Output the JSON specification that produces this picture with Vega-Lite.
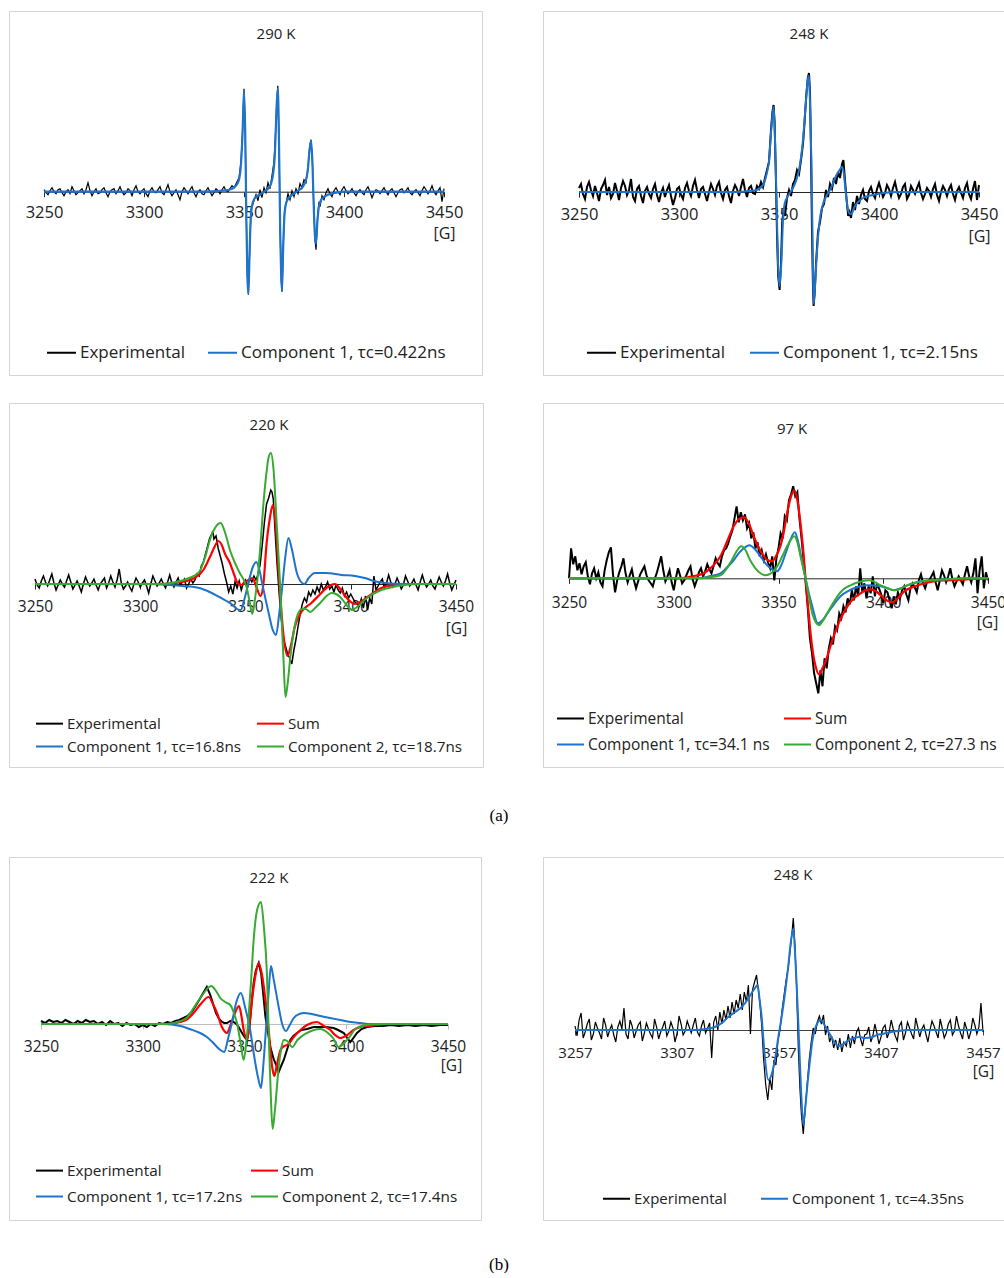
{
"$schema":"https://vega.github.io/schema/vega-lite/v6.json",
"background":"white",
"padding":{"left":8,"top":10,"right":0,"bottom":0},
"config":{
 "view":{"stroke":"#D4D4D4","strokeWidth":1},
 "font":"Open Sans",
 "axis":{"grid":false,"format":"d","labelFont":"Open Sans","titleFont":"Open Sans","labelColor":"#222","titleColor":"#222","titleFontWeight":"normal","domainColor":"#262626","tickColor":"#262626","tickSize":5,"labelBaseline":"middle","labelFlush":false,"labelOverlap":false,"titleBaseline":"middle","titleAlign":"center","zindex":1},
 "legend":{"orient":"none","direction":"horizontal","title":null,"symbolType":"stroke","symbolStrokeWidth":2,"labelFont":"Open Sans","labelColor":"#222","labelOffset":3,"labelLimit":400},
 "title":{"font":"Open Sans","fontWeight":"normal","color":"#222","fontSize":15,"frame":"group","anchor":"middle","baseline":"middle"}
},
"datasets":{
"p1e":[{"x":3250,"y":2},{"x":3251,"y":-1},{"x":3252,"y":-3},{"x":3253,"y":1},{"x":3254,"y":4},{"x":3255,"y":0},{"x":3256,"y":-2},{"x":3257,"y":2},{"x":3258,"y":3},{"x":3259,"y":-1},{"x":3260,"y":-4},{"x":3261,"y":0},{"x":3262,"y":2},{"x":3263,"y":-2},{"x":3264,"y":5},{"x":3265,"y":1},{"x":3266,"y":-3},{"x":3267,"y":-1},{"x":3268,"y":1},{"x":3269,"y":3},{"x":3270,"y":-2},{"x":3271,"y":2},{"x":3272,"y":9},{"x":3273,"y":1},{"x":3274,"y":-4},{"x":3275,"y":0},{"x":3276,"y":3},{"x":3277,"y":-2},{"x":3278,"y":-1},{"x":3279,"y":2},{"x":3280,"y":4},{"x":3281,"y":-1},{"x":3282,"y":-5},{"x":3283,"y":0},{"x":3284,"y":2},{"x":3285,"y":3},{"x":3286,"y":-2},{"x":3287,"y":1},{"x":3288,"y":5},{"x":3289,"y":0},{"x":3290,"y":-3},{"x":3291,"y":-1},{"x":3292,"y":3},{"x":3293,"y":1},{"x":3294,"y":-4},{"x":3295,"y":2},{"x":3296,"y":6},{"x":3297,"y":0},{"x":3298,"y":-2},{"x":3299,"y":1},{"x":3300,"y":3},{"x":3301,"y":-2},{"x":3302,"y":-5},{"x":3303,"y":1},{"x":3304,"y":4},{"x":3305,"y":0},{"x":3306,"y":-1},{"x":3307,"y":2},{"x":3308,"y":5},{"x":3309,"y":-1},{"x":3310,"y":-3},{"x":3311,"y":2},{"x":3312,"y":7},{"x":3313,"y":0},{"x":3314,"y":-4},{"x":3315,"y":-1},{"x":3316,"y":2},{"x":3317,"y":-3},{"x":3318,"y":-8},{"x":3319,"y":0},{"x":3320,"y":4},{"x":3321,"y":1},{"x":3322,"y":-2},{"x":3323,"y":2},{"x":3324,"y":5},{"x":3325,"y":-1},{"x":3326,"y":-5},{"x":3327,"y":0},{"x":3328,"y":2},{"x":3329,"y":-2},{"x":3330,"y":-3},{"x":3331,"y":1},{"x":3332,"y":4},{"x":3333,"y":0},{"x":3334,"y":-4},{"x":3335,"y":-1},{"x":3336,"y":3},{"x":3337,"y":1},{"x":3338,"y":-2},{"x":3339,"y":2},{"x":3340,"y":5},{"x":3341,"y":1},{"x":3342,"y":0},{"x":3343,"y":3},{"x":3344,"y":6},{"x":3345,"y":4},{"x":3346,"y":8},{"x":3347.5,"y":14},{"x":3348.5,"y":30},{"x":3349.3,"y":62},{"x":3350,"y":103},{"x":3350.6,"y":62},{"x":3351.2,"y":-28},{"x":3351.7,"y":-84},{"x":3352.2,"y":-103},{"x":3352.8,"y":-62},{"x":3353.5,"y":-18},{"x":3354.5,"y":-12},{"x":3356,"y":-3},{"x":3357,"y":-9},{"x":3358,"y":2},{"x":3359,"y":-6},{"x":3360,"y":4},{"x":3361,"y":-1},{"x":3362,"y":9},{"x":3363,"y":3},{"x":3364,"y":16},{"x":3365,"y":30},{"x":3365.8,"y":60},{"x":3366.4,"y":90},{"x":3366.9,"y":106},{"x":3367.5,"y":52},{"x":3368.1,"y":-40},{"x":3368.6,"y":-86},{"x":3369,"y":-100},{"x":3369.6,"y":-56},{"x":3370.3,"y":-18},{"x":3371,"y":-12},{"x":3372,"y":-2},{"x":3373,"y":-8},{"x":3374,"y":1},{"x":3375,"y":-5},{"x":3376,"y":3},{"x":3377,"y":-2},{"x":3378,"y":8},{"x":3379,"y":4},{"x":3380,"y":12},{"x":3381,"y":9},{"x":3382,"y":24},{"x":3382.8,"y":44},{"x":3383.5,"y":52},{"x":3384.2,"y":30},{"x":3384.8,"y":-10},{"x":3385.5,"y":-48},{"x":3386,"y":-58},{"x":3386.7,"y":-28},{"x":3387.5,"y":-10},{"x":3388,"y":-15},{"x":3389,"y":-4},{"x":3390,"y":-8},{"x":3391,"y":-1},{"x":3392,"y":3},{"x":3393,"y":-2},{"x":3394,"y":-5},{"x":3395,"y":1},{"x":3396,"y":4},{"x":3397,"y":0},{"x":3398,"y":-3},{"x":3399,"y":2},{"x":3400,"y":5},{"x":3401,"y":1},{"x":3402,"y":-2},{"x":3403,"y":0},{"x":3404,"y":3},{"x":3405,"y":-1},{"x":3406,"y":-4},{"x":3407,"y":0},{"x":3408,"y":2},{"x":3409,"y":-1},{"x":3410,"y":-3},{"x":3411,"y":2},{"x":3412,"y":5},{"x":3413,"y":0},{"x":3414,"y":-6},{"x":3415,"y":-1},{"x":3416,"y":2},{"x":3417,"y":1},{"x":3418,"y":-2},{"x":3419,"y":1},{"x":3420,"y":4},{"x":3421,"y":0},{"x":3422,"y":-3},{"x":3423,"y":1},{"x":3424,"y":3},{"x":3425,"y":-1},{"x":3426,"y":-5},{"x":3427,"y":-1},{"x":3428,"y":2},{"x":3429,"y":3},{"x":3430,"y":-1},{"x":3431,"y":1},{"x":3432,"y":4},{"x":3433,"y":-1},{"x":3434,"y":-3},{"x":3435,"y":0},{"x":3436,"y":2},{"x":3437,"y":-1},{"x":3438,"y":-4},{"x":3439,"y":1},{"x":3440,"y":5},{"x":3441,"y":2},{"x":3442,"y":-2},{"x":3443,"y":1},{"x":3444,"y":6},{"x":3445,"y":0},{"x":3446,"y":-3},{"x":3447,"y":1},{"x":3448,"y":4},{"x":3449,"y":-10},{"x":3450,"y":3}],
"p1c":[{"x":3250,"y":0},{"x":3300,"y":0},{"x":3330,"y":0},{"x":3340,"y":1},{"x":3344,"y":3},{"x":3346,"y":6},{"x":3347.5,"y":12},{"x":3348.5,"y":28},{"x":3349.3,"y":60},{"x":3350,"y":101},{"x":3350.6,"y":60},{"x":3351.2,"y":-30},{"x":3351.7,"y":-85},{"x":3352.2,"y":-102},{"x":3352.8,"y":-60},{"x":3353.5,"y":-22},{"x":3354.5,"y":-10},{"x":3356,"y":-5},{"x":3358,"y":-3},{"x":3360,"y":0},{"x":3362,"y":3},{"x":3363.5,"y":8},{"x":3364.5,"y":17},{"x":3365.5,"y":40},{"x":3366.2,"y":80},{"x":3366.9,"y":103},{"x":3367.5,"y":50},{"x":3368.1,"y":-40},{"x":3368.6,"y":-85},{"x":3369,"y":-99},{"x":3369.6,"y":-55},{"x":3370.3,"y":-22},{"x":3371.3,"y":-10},{"x":3373,"y":-5},{"x":3375,"y":-2},{"x":3377,"y":1},{"x":3379,"y":4},{"x":3380.5,"y":9},{"x":3381.8,"y":20},{"x":3382.8,"y":42},{"x":3383.5,"y":51},{"x":3384.2,"y":30},{"x":3384.8,"y":-10},{"x":3385.5,"y":-45},{"x":3386,"y":-52},{"x":3386.7,"y":-30},{"x":3387.5,"y":-14},{"x":3389,"y":-7},{"x":3392,"y":-3},{"x":3396,"y":-1},{"x":3400,"y":0},{"x":3450,"y":0}],
"p2e":[{"x":3250,"y":4},{"x":3251,"y":8},{"x":3252,"y":-2},{"x":3253,"y":-7},{"x":3254,"y":5},{"x":3255,"y":10},{"x":3256,"y":2},{"x":3257,"y":-4},{"x":3258,"y":6},{"x":3259,"y":-1},{"x":3260,"y":-9},{"x":3261,"y":3},{"x":3262,"y":7},{"x":3263,"y":12},{"x":3264,"y":-3},{"x":3265,"y":5},{"x":3266,"y":-6},{"x":3267,"y":-2},{"x":3268,"y":9},{"x":3269,"y":1},{"x":3270,"y":-8},{"x":3271,"y":4},{"x":3272,"y":11},{"x":3273,"y":6},{"x":3274,"y":-3},{"x":3275,"y":2},{"x":3276,"y":13},{"x":3277,"y":-5},{"x":3278,"y":-9},{"x":3279,"y":3},{"x":3280,"y":6},{"x":3281,"y":-4},{"x":3282,"y":-11},{"x":3283,"y":1},{"x":3284,"y":5},{"x":3285,"y":-2},{"x":3286,"y":-6},{"x":3287,"y":3},{"x":3288,"y":8},{"x":3289,"y":-3},{"x":3290,"y":-10},{"x":3291,"y":-1},{"x":3292,"y":4},{"x":3293,"y":-5},{"x":3294,"y":2},{"x":3295,"y":7},{"x":3296,"y":-4},{"x":3297,"y":-13},{"x":3298,"y":-6},{"x":3299,"y":3},{"x":3300,"y":5},{"x":3301,"y":-3},{"x":3302,"y":-7},{"x":3303,"y":4},{"x":3304,"y":9},{"x":3305,"y":1},{"x":3306,"y":-4},{"x":3307,"y":6},{"x":3308,"y":12},{"x":3309,"y":2},{"x":3310,"y":-6},{"x":3311,"y":3},{"x":3312,"y":5},{"x":3313,"y":-2},{"x":3314,"y":-9},{"x":3315,"y":0},{"x":3316,"y":8},{"x":3317,"y":3},{"x":3318,"y":-3},{"x":3319,"y":6},{"x":3320,"y":10},{"x":3321,"y":-1},{"x":3322,"y":-7},{"x":3323,"y":2},{"x":3324,"y":5},{"x":3325,"y":-4},{"x":3326,"y":-11},{"x":3327,"y":1},{"x":3328,"y":7},{"x":3329,"y":3},{"x":3330,"y":-4},{"x":3331,"y":5},{"x":3332,"y":13},{"x":3333,"y":2},{"x":3334,"y":-5},{"x":3335,"y":4},{"x":3336,"y":6},{"x":3337,"y":-1},{"x":3338,"y":-2},{"x":3339,"y":6},{"x":3340,"y":3},{"x":3341,"y":10},{"x":3342,"y":5},{"x":3343,"y":14},{"x":3344,"y":22},{"x":3345,"y":30},{"x":3346,"y":62},{"x":3346.7,"y":80},{"x":3347.3,"y":87},{"x":3347.8,"y":70},{"x":3348.4,"y":18},{"x":3349,"y":-42},{"x":3349.6,"y":-84},{"x":3350.3,"y":-98},{"x":3351,"y":-72},{"x":3351.6,"y":-30},{"x":3352.3,"y":-18},{"x":3353,"y":-24},{"x":3354,"y":-6},{"x":3355,"y":2},{"x":3356,"y":-4},{"x":3357,"y":8},{"x":3358,"y":12},{"x":3359,"y":22},{"x":3360,"y":18},{"x":3361,"y":32},{"x":3362,"y":48},{"x":3362.8,"y":70},{"x":3363.6,"y":96},{"x":3364.4,"y":114},{"x":3365,"y":119},{"x":3365.5,"y":100},{"x":3366,"y":40},{"x":3366.5,"y":-40},{"x":3367,"y":-96},{"x":3367.3,"y":-114},{"x":3367.8,"y":-102},{"x":3368.5,"y":-72},{"x":3369.5,"y":-40},{"x":3370.5,"y":-30},{"x":3371.5,"y":-16},{"x":3372.5,"y":-12},{"x":3373.5,"y":2},{"x":3374.5,"y":-5},{"x":3375.5,"y":8},{"x":3376.5,"y":3},{"x":3377.5,"y":14},{"x":3378.5,"y":8},{"x":3379.5,"y":20},{"x":3380.5,"y":14},{"x":3381.5,"y":28},{"x":3382.2,"y":32},{"x":3383,"y":12},{"x":3383.8,"y":-8},{"x":3384.6,"y":-24},{"x":3385.3,"y":-20},{"x":3386,"y":-26},{"x":3387,"y":-10},{"x":3388,"y":-18},{"x":3389,"y":-4},{"x":3390,"y":-12},{"x":3391,"y":-3},{"x":3392,"y":2},{"x":3393,"y":-7},{"x":3394,"y":-9},{"x":3395,"y":1},{"x":3396,"y":5},{"x":3397,"y":-2},{"x":3398,"y":-6},{"x":3399,"y":3},{"x":3400,"y":9},{"x":3401,"y":2},{"x":3402,"y":-5},{"x":3403,"y":-1},{"x":3404,"y":7},{"x":3405,"y":3},{"x":3406,"y":-4},{"x":3407,"y":4},{"x":3408,"y":10},{"x":3409,"y":1},{"x":3410,"y":-6},{"x":3411,"y":-2},{"x":3412,"y":5},{"x":3413,"y":8},{"x":3414,"y":-7},{"x":3415,"y":-3},{"x":3416,"y":6},{"x":3417,"y":2},{"x":3418,"y":-2},{"x":3419,"y":4},{"x":3420,"y":9},{"x":3421,"y":-1},{"x":3422,"y":-7},{"x":3423,"y":-2},{"x":3424,"y":4},{"x":3425,"y":1},{"x":3426,"y":-5},{"x":3427,"y":3},{"x":3428,"y":8},{"x":3429,"y":-3},{"x":3430,"y":-9},{"x":3431,"y":0},{"x":3432,"y":6},{"x":3433,"y":2},{"x":3434,"y":-4},{"x":3435,"y":3},{"x":3436,"y":7},{"x":3437,"y":-2},{"x":3438,"y":-8},{"x":3439,"y":1},{"x":3440,"y":5},{"x":3441,"y":-1},{"x":3442,"y":-6},{"x":3443,"y":4},{"x":3444,"y":9},{"x":3445,"y":-2},{"x":3446,"y":-7},{"x":3447,"y":3},{"x":3448,"y":11},{"x":3449,"y":-8},{"x":3450,"y":7}],
"p2c":[{"x":3250,"y":0},{"x":3330,"y":0},{"x":3335,"y":1},{"x":3338.7,"y":2},{"x":3342,"y":7},{"x":3343.7,"y":17},{"x":3345,"y":31},{"x":3346.2,"y":64},{"x":3347.3,"y":85},{"x":3347.9,"y":60},{"x":3348.7,"y":-3},{"x":3349.5,"y":-70},{"x":3350.3,"y":-94},{"x":3351.2,"y":-69},{"x":3352,"y":-29},{"x":3352.8,"y":-12},{"x":3354.5,"y":-4},{"x":3357,"y":4},{"x":3358.5,"y":11},{"x":3360.2,"y":24},{"x":3361.8,"y":48},{"x":3363.5,"y":91},{"x":3364.4,"y":112},{"x":3365,"y":116},{"x":3365.6,"y":80},{"x":3366.2,"y":31},{"x":3366.7,"y":-36},{"x":3367.3,"y":-112},{"x":3368,"y":-95},{"x":3368.7,"y":-69},{"x":3370.3,"y":-29},{"x":3372,"y":-12},{"x":3373.7,"y":-4},{"x":3376,"y":4},{"x":3378.5,"y":16},{"x":3380.3,"y":22},{"x":3381.5,"y":25},{"x":3382.3,"y":20},{"x":3383.3,"y":1},{"x":3384.2,"y":-14},{"x":3385,"y":-21},{"x":3386.2,"y":-22},{"x":3387.5,"y":-16},{"x":3388.7,"y":-12},{"x":3392,"y":-6},{"x":3397,"y":-3},{"x":3402,"y":-1},{"x":3410,"y":0},{"x":3450,"y":0}],
"p3e":[{"x":3250,"y":5},{"x":3251,"y":-1},{"x":3252,"y":-4},{"x":3253,"y":3},{"x":3254,"y":8},{"x":3255,"y":2},{"x":3256,"y":-2},{"x":3257,"y":4},{"x":3258,"y":10},{"x":3259,"y":1},{"x":3260,"y":-6},{"x":3261,"y":-1},{"x":3262,"y":4},{"x":3263,"y":0},{"x":3264,"y":-3},{"x":3265,"y":3},{"x":3266,"y":9},{"x":3267,"y":2},{"x":3268,"y":-5},{"x":3269,"y":-1},{"x":3270,"y":3},{"x":3271,"y":-2},{"x":3272,"y":-8},{"x":3273,"y":0},{"x":3274,"y":7},{"x":3275,"y":2},{"x":3276,"y":-2},{"x":3277,"y":1},{"x":3278,"y":5},{"x":3279,"y":-1},{"x":3280,"y":-6},{"x":3281,"y":0},{"x":3282,"y":3},{"x":3283,"y":6},{"x":3284,"y":-4},{"x":3285,"y":1},{"x":3286,"y":8},{"x":3287,"y":2},{"x":3288,"y":-3},{"x":3289,"y":4},{"x":3290,"y":15},{"x":3291,"y":1},{"x":3292,"y":-5},{"x":3293,"y":-2},{"x":3294,"y":2},{"x":3295,"y":-3},{"x":3296,"y":-7},{"x":3297,"y":0},{"x":3298,"y":6},{"x":3299,"y":2},{"x":3300,"y":-3},{"x":3301,"y":1},{"x":3302,"y":4},{"x":3303,"y":-2},{"x":3304,"y":-9},{"x":3305,"y":0},{"x":3306,"y":8},{"x":3307,"y":3},{"x":3308,"y":-2},{"x":3309,"y":1},{"x":3310,"y":5},{"x":3311,"y":0},{"x":3312,"y":-4},{"x":3313,"y":2},{"x":3314,"y":9},{"x":3315,"y":1},{"x":3316,"y":-3},{"x":3317,"y":2},{"x":3318,"y":6},{"x":3319,"y":-1},{"x":3320,"y":2},{"x":3321,"y":5},{"x":3322,"y":-4},{"x":3323,"y":0},{"x":3324,"y":5},{"x":3325,"y":1},{"x":3326,"y":4},{"x":3327,"y":10},{"x":3328,"y":8},{"x":3329,"y":18},{"x":3330,"y":22},{"x":3331,"y":30},{"x":3332,"y":38},{"x":3333,"y":46},{"x":3334,"y":50},{"x":3334.5,"y":53},{"x":3335,"y":45},{"x":3336,"y":48},{"x":3337,"y":36},{"x":3338,"y":28},{"x":3339,"y":20},{"x":3340,"y":10},{"x":3341,"y":2},{"x":3342,"y":-8},{"x":3343,"y":-2},{"x":3344,"y":-10},{"x":3345,"y":2},{"x":3346,"y":-4},{"x":3347,"y":3},{"x":3348,"y":-6},{"x":3349,"y":1},{"x":3350,"y":4},{"x":3351,"y":-3},{"x":3352,"y":6},{"x":3353,"y":2},{"x":3354,"y":8},{"x":3355,"y":4},{"x":3356,"y":10},{"x":3357,"y":20},{"x":3358,"y":40},{"x":3359,"y":62},{"x":3360,"y":80},{"x":3361,"y":86},{"x":3362,"y":94},{"x":3362.6,"y":92},{"x":3363.2,"y":85},{"x":3364,"y":55},{"x":3365,"y":20},{"x":3366,"y":-10},{"x":3367,"y":-35},{"x":3368,"y":-55},{"x":3369,"y":-62},{"x":3370,"y":-70},{"x":3371,"y":-74},{"x":3372,"y":-80},{"x":3373,"y":-66},{"x":3374,"y":-55},{"x":3375,"y":-42},{"x":3376,"y":-30},{"x":3377,"y":-20},{"x":3378,"y":-14},{"x":3379,"y":-18},{"x":3380,"y":-8},{"x":3381,"y":-12},{"x":3382,"y":-6},{"x":3383,"y":-10},{"x":3384,"y":-3},{"x":3385,"y":-8},{"x":3386,"y":0},{"x":3387,"y":-6},{"x":3388,"y":-3},{"x":3389,"y":2},{"x":3390,"y":-5},{"x":3391,"y":-2},{"x":3392,"y":-8},{"x":3393,"y":-1},{"x":3394,"y":-6},{"x":3395,"y":-9},{"x":3396,"y":-4},{"x":3397,"y":-12},{"x":3398,"y":-8},{"x":3399,"y":-14},{"x":3400,"y":-10},{"x":3402,"y":-18},{"x":3404,"y":-22},{"x":3405,"y":-15},{"x":3406,"y":-24},{"x":3407,"y":-12},{"x":3408,"y":-26},{"x":3409,"y":-14},{"x":3410,"y":-20},{"x":3411,"y":8},{"x":3412,"y":-6},{"x":3413,"y":-2},{"x":3414,"y":2},{"x":3415,"y":5},{"x":3416,"y":-4},{"x":3417,"y":1},{"x":3418,"y":9},{"x":3419,"y":2},{"x":3420,"y":-3},{"x":3421,"y":0},{"x":3422,"y":6},{"x":3423,"y":1},{"x":3424,"y":-5},{"x":3425,"y":-1},{"x":3426,"y":8},{"x":3427,"y":3},{"x":3428,"y":-2},{"x":3429,"y":1},{"x":3430,"y":5},{"x":3431,"y":-1},{"x":3432,"y":-6},{"x":3433,"y":2},{"x":3434,"y":9},{"x":3435,"y":2},{"x":3436,"y":-3},{"x":3437,"y":0},{"x":3438,"y":4},{"x":3439,"y":-2},{"x":3440,"y":-5},{"x":3441,"y":1},{"x":3442,"y":7},{"x":3443,"y":2},{"x":3444,"y":-2},{"x":3445,"y":3},{"x":3446,"y":10},{"x":3447,"y":1},{"x":3448,"y":-6},{"x":3449,"y":-1},{"x":3450,"y":4}],
"p3s":[{"x":3250,"y":0},{"x":3310,"y":0},{"x":3317,"y":1},{"x":3322,"y":3},{"x":3325.7,"y":6},{"x":3330,"y":14},{"x":3333.1,"y":27},{"x":3335.5,"y":38},{"x":3337.1,"y":43},{"x":3338.5,"y":40},{"x":3340.3,"y":30},{"x":3342.6,"y":21},{"x":3344.5,"y":10},{"x":3346.2,"y":1},{"x":3348,"y":-1},{"x":3350,"y":2},{"x":3353.3,"y":6},{"x":3355,"y":-2},{"x":3357.2,"y":-12},{"x":3358.5,"y":0},{"x":3360,"y":40},{"x":3361.5,"y":65},{"x":3363,"y":79},{"x":3364.3,"y":60},{"x":3366.1,"y":0},{"x":3368,"y":-50},{"x":3369.9,"y":-72},{"x":3371.5,"y":-62},{"x":3373.4,"y":-43},{"x":3376.5,"y":-28},{"x":3381.3,"y":-19},{"x":3386,"y":-9},{"x":3389,"y":-3},{"x":3392.4,"y":0},{"x":3395,"y":-5},{"x":3397,"y":-11},{"x":3399.5,"y":-17},{"x":3401.8,"y":-20},{"x":3404.5,"y":-18},{"x":3408,"y":-13},{"x":3414.5,"y":-4},{"x":3420,"y":-1},{"x":3425.4,"y":0},{"x":3450,"y":0}],
"p3c1":[{"x":3250,"y":0},{"x":3305,"y":0},{"x":3314,"y":-1},{"x":3320,"y":-2},{"x":3328,"y":-4},{"x":3333,"y":-8},{"x":3337.6,"y":-13},{"x":3341,"y":-17},{"x":3343.9,"y":-21},{"x":3346,"y":-25},{"x":3347.7,"y":-26},{"x":3349.5,"y":-15},{"x":3351.7,"y":4},{"x":3353.5,"y":17},{"x":3355.1,"y":22},{"x":3356.5,"y":15},{"x":3357.9,"y":1},{"x":3359.5,"y":-15},{"x":3361,"y":-29},{"x":3362.8,"y":-45},{"x":3364.5,"y":-51},{"x":3366,"y":-30},{"x":3367.3,"y":-6},{"x":3368.8,"y":25},{"x":3370.4,"y":46},{"x":3372,"y":35},{"x":3374.4,"y":11},{"x":3376,"y":3},{"x":3378,"y":0},{"x":3380,"y":6},{"x":3383,"y":11},{"x":3388,"y":11},{"x":3395.6,"y":9},{"x":3402,"y":8},{"x":3406.7,"y":6},{"x":3411,"y":3},{"x":3416.2,"y":1},{"x":3425,"y":0},{"x":3450,"y":0}],
"p3c2":[{"x":3250,"y":0},{"x":3310,"y":0},{"x":3317,"y":2},{"x":3322,"y":5},{"x":3328,"y":12},{"x":3331,"y":28},{"x":3333.1,"y":44},{"x":3335.5,"y":56},{"x":3338.2,"y":61},{"x":3340.5,"y":50},{"x":3342.6,"y":34},{"x":3345,"y":21},{"x":3347.3,"y":11},{"x":3350.5,"y":-3},{"x":3352,"y":-18},{"x":3353.2,"y":-30},{"x":3354.5,"y":-15},{"x":3356,"y":11},{"x":3357.3,"y":45},{"x":3358.4,"y":77},{"x":3360,"y":112},{"x":3361,"y":127},{"x":3362.1,"y":131},{"x":3363.3,"y":115},{"x":3364.8,"y":61},{"x":3366.4,"y":0},{"x":3368,"y":-73},{"x":3369,"y":-113},{"x":3370,"y":-100},{"x":3371.3,"y":-73},{"x":3374.4,"y":-33},{"x":3376.8,"y":-25},{"x":3378.5,"y":-25},{"x":3380.8,"y":-28},{"x":3383,"y":-24},{"x":3385.5,"y":-19},{"x":3388,"y":-13},{"x":3391,"y":-9},{"x":3393,"y":-10},{"x":3395,"y":-13},{"x":3398,"y":-21},{"x":3400.6,"y":-26},{"x":3403,"y":-23},{"x":3407.7,"y":-14},{"x":3414.5,"y":-6},{"x":3420,"y":-3},{"x":3425.4,"y":-1},{"x":3432,"y":0},{"x":3450,"y":0}],
"p4e":[{"x":3250,"y":0},{"x":3251,"y":30},{"x":3252,"y":14},{"x":3253,"y":22},{"x":3254,"y":8},{"x":3255,"y":15},{"x":3256,"y":4},{"x":3257,"y":12},{"x":3258,"y":16},{"x":3259,"y":2},{"x":3260,"y":-6},{"x":3261,"y":5},{"x":3262,"y":10},{"x":3263,"y":0},{"x":3264,"y":6},{"x":3265,"y":-4},{"x":3266,"y":-8},{"x":3267,"y":8},{"x":3268,"y":18},{"x":3269,"y":26},{"x":3270,"y":31},{"x":3271,"y":4},{"x":3272,"y":-14},{"x":3273,"y":-2},{"x":3274,"y":6},{"x":3275,"y":12},{"x":3276,"y":20},{"x":3277,"y":5},{"x":3278,"y":-4},{"x":3279,"y":3},{"x":3280,"y":9},{"x":3281,"y":-2},{"x":3282,"y":-10},{"x":3283,"y":-3},{"x":3284,"y":4},{"x":3285,"y":8},{"x":3286,"y":12},{"x":3287,"y":3},{"x":3288,"y":-2},{"x":3289,"y":-5},{"x":3290,"y":-8},{"x":3291,"y":0},{"x":3292,"y":6},{"x":3293,"y":14},{"x":3294,"y":22},{"x":3295,"y":8},{"x":3296,"y":-3},{"x":3297,"y":2},{"x":3298,"y":8},{"x":3299,"y":-4},{"x":3300,"y":-12},{"x":3301,"y":0},{"x":3302,"y":10},{"x":3303,"y":3},{"x":3304,"y":-5},{"x":3305,"y":-2},{"x":3306,"y":3},{"x":3307,"y":8},{"x":3308,"y":12},{"x":3309,"y":-1},{"x":3310,"y":-8},{"x":3311,"y":-2},{"x":3312,"y":6},{"x":3313,"y":10},{"x":3314,"y":2},{"x":3315,"y":7},{"x":3316,"y":14},{"x":3317,"y":9},{"x":3318,"y":5},{"x":3319,"y":12},{"x":3320,"y":20},{"x":3321,"y":15},{"x":3322,"y":12},{"x":3323,"y":22},{"x":3324,"y":28},{"x":3325,"y":30},{"x":3326,"y":35},{"x":3327,"y":42},{"x":3328,"y":48},{"x":3329,"y":60},{"x":3330,"y":72},{"x":3331,"y":56},{"x":3332,"y":66},{"x":3333,"y":58},{"x":3334,"y":64},{"x":3335,"y":50},{"x":3336,"y":55},{"x":3337,"y":40},{"x":3338,"y":46},{"x":3339,"y":30},{"x":3340,"y":36},{"x":3341,"y":22},{"x":3342,"y":28},{"x":3343,"y":18},{"x":3344,"y":24},{"x":3345,"y":16},{"x":3346,"y":10},{"x":3347,"y":22},{"x":3348,"y":-2},{"x":3349,"y":20},{"x":3350,"y":30},{"x":3351,"y":45},{"x":3352,"y":40},{"x":3353,"y":62},{"x":3354,"y":58},{"x":3355,"y":78},{"x":3356,"y":84},{"x":3357,"y":92},{"x":3358,"y":82},{"x":3359,"y":86},{"x":3360,"y":60},{"x":3361,"y":40},{"x":3362,"y":18},{"x":3363,"y":-5},{"x":3364,"y":-30},{"x":3365,"y":-60},{"x":3366,"y":-75},{"x":3367,"y":-95},{"x":3368,"y":-105},{"x":3369,"y":-115},{"x":3370,"y":-92},{"x":3371,"y":-108},{"x":3372,"y":-80},{"x":3373,"y":-90},{"x":3374,"y":-70},{"x":3375,"y":-60},{"x":3376,"y":-66},{"x":3377,"y":-48},{"x":3378,"y":-52},{"x":3379,"y":-35},{"x":3380,"y":-40},{"x":3381,"y":-28},{"x":3382,"y":-34},{"x":3383,"y":-20},{"x":3384,"y":-26},{"x":3385,"y":-12},{"x":3386,"y":-22},{"x":3387,"y":-8},{"x":3388,"y":-18},{"x":3389,"y":10},{"x":3390,"y":-14},{"x":3391,"y":-5},{"x":3392,"y":-20},{"x":3393,"y":-8},{"x":3394,"y":-15},{"x":3395,"y":2},{"x":3396,"y":-18},{"x":3397,"y":-6},{"x":3398,"y":-10},{"x":3399,"y":-16},{"x":3400,"y":-25},{"x":3401,"y":-12},{"x":3402,"y":-14},{"x":3403,"y":-22},{"x":3404,"y":-30},{"x":3405,"y":-18},{"x":3406,"y":-26},{"x":3407,"y":-14},{"x":3408,"y":-20},{"x":3409,"y":-12},{"x":3410,"y":-8},{"x":3411,"y":-16},{"x":3412,"y":-22},{"x":3413,"y":-10},{"x":3414,"y":-5},{"x":3415,"y":-9},{"x":3416,"y":-14},{"x":3417,"y":-2},{"x":3418,"y":4},{"x":3419,"y":-5},{"x":3420,"y":-10},{"x":3421,"y":-3},{"x":3422,"y":-2},{"x":3423,"y":2},{"x":3424,"y":6},{"x":3425,"y":-4},{"x":3426,"y":-12},{"x":3427,"y":-2},{"x":3428,"y":8},{"x":3429,"y":3},{"x":3430,"y":-4},{"x":3431,"y":2},{"x":3432,"y":10},{"x":3433,"y":-1},{"x":3434,"y":-8},{"x":3435,"y":-3},{"x":3436,"y":2},{"x":3437,"y":-2},{"x":3438,"y":-6},{"x":3439,"y":4},{"x":3440,"y":12},{"x":3441,"y":2},{"x":3442,"y":-4},{"x":3443,"y":5},{"x":3444,"y":20},{"x":3445,"y":-15},{"x":3446,"y":8},{"x":3447,"y":22},{"x":3448,"y":-10},{"x":3449,"y":6},{"x":3450,"y":-2}],
"p4s":[{"x":3250,"y":0},{"x":3303,"y":0},{"x":3309,"y":2},{"x":3314.3,"y":5},{"x":3318,"y":11},{"x":3322.3,"y":22},{"x":3325.5,"y":37},{"x":3328.6,"y":52},{"x":3331,"y":59},{"x":3333.7,"y":61},{"x":3336,"y":54},{"x":3338.2,"y":42},{"x":3340.5,"y":31},{"x":3343,"y":22},{"x":3345,"y":18},{"x":3347,"y":17},{"x":3349,"y":23},{"x":3350.9,"y":32},{"x":3352.5,"y":46},{"x":3354.1,"y":65},{"x":3356,"y":82},{"x":3357.6,"y":88},{"x":3359,"y":78},{"x":3360.5,"y":55},{"x":3361.8,"y":28},{"x":3362.9,"y":0},{"x":3364.1,"y":-28},{"x":3365.3,"y":-55},{"x":3366.5,"y":-75},{"x":3367.7,"y":-88},{"x":3369.3,"y":-96},{"x":3371,"y":-90},{"x":3373.3,"y":-78},{"x":3375.5,"y":-63},{"x":3378.1,"y":-48},{"x":3380.5,"y":-37},{"x":3382.9,"y":-28},{"x":3386,"y":-20},{"x":3389.2,"y":-15},{"x":3391.5,"y":-12},{"x":3394,"y":-11},{"x":3396.5,"y":-13},{"x":3398.8,"y":-17},{"x":3401.5,"y":-22},{"x":3404.4,"y":-24},{"x":3407,"y":-20},{"x":3410,"y":-13},{"x":3414,"y":-9},{"x":3418,"y":-6},{"x":3424,"y":-3},{"x":3430.7,"y":-2},{"x":3440,"y":-1},{"x":3450,"y":0}],
"p4c1":[{"x":3250,"y":0},{"x":3311,"y":0},{"x":3317,"y":2},{"x":3322.3,"y":5},{"x":3325,"y":10},{"x":3328.6,"y":18},{"x":3331,"y":25},{"x":3333.4,"y":30},{"x":3336.1,"y":33},{"x":3338.8,"y":29},{"x":3341.4,"y":22},{"x":3343.8,"y":15},{"x":3346.2,"y":10},{"x":3349.4,"y":7},{"x":3351.5,"y":14},{"x":3353.4,"y":25},{"x":3355.6,"y":38},{"x":3357.8,"y":46},{"x":3359.2,"y":38},{"x":3360.5,"y":25},{"x":3361.7,"y":12},{"x":3362.9,"y":0},{"x":3364.5,"y":-15},{"x":3366.1,"y":-28},{"x":3368.8,"y":-45},{"x":3371,"y":-42},{"x":3373.3,"y":-35},{"x":3376.5,"y":-26},{"x":3379.6,"y":-18},{"x":3383,"y":-13},{"x":3386,"y":-10},{"x":3392.4,"y":-7},{"x":3398.8,"y":-8},{"x":3402,"y":-10},{"x":3405.2,"y":-12},{"x":3408.5,"y":-10},{"x":3411.5,"y":-7},{"x":3416,"y":-4},{"x":3422.7,"y":-2},{"x":3430,"y":-1},{"x":3440,"y":0},{"x":3450,"y":0}],
"p4c2":[{"x":3250,"y":0},{"x":3311,"y":0},{"x":3317,"y":1},{"x":3322.3,"y":3},{"x":3325,"y":9},{"x":3327.7,"y":18},{"x":3330,"y":27},{"x":3332.2,"y":32},{"x":3334.3,"y":28},{"x":3336.5,"y":18},{"x":3339,"y":10},{"x":3341.4,"y":5},{"x":3343.8,"y":3},{"x":3346.5,"y":5},{"x":3349.4,"y":12},{"x":3351.8,"y":22},{"x":3354.1,"y":32},{"x":3356,"y":39},{"x":3357.6,"y":42},{"x":3359,"y":36},{"x":3360.5,"y":22},{"x":3361.8,"y":10},{"x":3362.9,"y":0},{"x":3364.5,"y":-18},{"x":3366.1,"y":-35},{"x":3367.8,"y":-44},{"x":3369.3,"y":-47},{"x":3371,"y":-43},{"x":3373.3,"y":-35},{"x":3375.7,"y":-26},{"x":3378.1,"y":-18},{"x":3381,"y":-11},{"x":3384.4,"y":-7},{"x":3388,"y":-4},{"x":3393.2,"y":-2},{"x":3398.8,"y":-7},{"x":3402,"y":-10},{"x":3405.2,"y":-12},{"x":3408.5,"y":-10},{"x":3411.5,"y":-7},{"x":3416,"y":-4},{"x":3422.7,"y":-2},{"x":3430,"y":-1},{"x":3440,"y":0},{"x":3450,"y":0}],
"p5e":[{"x":3250,"y":3},{"x":3252,"y":1},{"x":3254,"y":4},{"x":3256,"y":2},{"x":3258,"y":3},{"x":3260,"y":1},{"x":3262,"y":4},{"x":3264,"y":2},{"x":3266,"y":0},{"x":3268,"y":3},{"x":3270,"y":1},{"x":3272,"y":4},{"x":3274,"y":2},{"x":3276,"y":3},{"x":3278,"y":0},{"x":3280,"y":2},{"x":3282,"y":-1},{"x":3284,"y":3},{"x":3286,"y":0},{"x":3288,"y":1},{"x":3290,"y":-2},{"x":3292,"y":1},{"x":3294,"y":-1},{"x":3296,"y":0},{"x":3298,"y":-3},{"x":3300,"y":-1},{"x":3302,"y":-3},{"x":3304,"y":0},{"x":3306,"y":-2},{"x":3308,"y":1},{"x":3310,"y":0},{"x":3312,"y":2},{"x":3314,"y":1},{"x":3316,"y":3},{"x":3318,"y":4},{"x":3320,"y":6},{"x":3322,"y":8},{"x":3324,"y":12},{"x":3326,"y":18},{"x":3328,"y":25},{"x":3330,"y":32},{"x":3331.5,"y":37},{"x":3333,"y":30},{"x":3334,"y":24},{"x":3335,"y":17},{"x":3336,"y":11},{"x":3337,"y":7},{"x":3338,"y":4},{"x":3339,"y":2},{"x":3340,"y":1},{"x":3341.4,"y":1},{"x":3343,"y":3},{"x":3344.6,"y":2},{"x":3346,"y":0},{"x":3347.1,"y":-3},{"x":3348.5,"y":-8},{"x":3350,"y":-13},{"x":3351.3,"y":-16},{"x":3352.5,"y":-2},{"x":3353.5,"y":22},{"x":3354.5,"y":41},{"x":3355.5,"y":53},{"x":3357,"y":61},{"x":3358.2,"y":50},{"x":3359.3,"y":28},{"x":3360.3,"y":7},{"x":3361.5,"y":-8},{"x":3362.7,"y":-23},{"x":3364.3,"y":-35},{"x":3366,"y":-43},{"x":3366.8,"y":-48},{"x":3368,"y":-42},{"x":3369.3,"y":-36},{"x":3371,"y":-25},{"x":3372.5,"y":-16},{"x":3374,"y":-12},{"x":3375.8,"y":-9},{"x":3378,"y":-6},{"x":3380.7,"y":-5},{"x":3384,"y":-3},{"x":3387.3,"y":-3},{"x":3390,"y":-3},{"x":3393.8,"y":-4},{"x":3396,"y":-6},{"x":3398.8,"y":-9},{"x":3400.5,"y":-14},{"x":3402,"y":-18},{"x":3403.5,"y":-14},{"x":3405.3,"y":-9},{"x":3407.5,"y":-5},{"x":3410.2,"y":-3},{"x":3414,"y":-2},{"x":3418,"y":-2},{"x":3422,"y":-1},{"x":3426,"y":-2},{"x":3430,"y":-1},{"x":3434,"y":-2},{"x":3438,"y":-1},{"x":3442,"y":-2},{"x":3446,"y":-1},{"x":3450,"y":-1}],
"p5s":[{"x":3250,"y":0},{"x":3312,"y":0},{"x":3318.5,"y":2},{"x":3322,"y":5},{"x":3325,"y":11},{"x":3328.5,"y":20},{"x":3332.4,"y":27},{"x":3334.5,"y":20},{"x":3336.5,"y":11},{"x":3338.9,"y":-3},{"x":3341.4,"y":-9},{"x":3343,"y":-2},{"x":3344.6,"y":7},{"x":3347.3,"y":18},{"x":3348.5,"y":8},{"x":3349.6,"y":-6},{"x":3351.3,"y":-15},{"x":3352.5,"y":0},{"x":3353.7,"y":24},{"x":3355.5,"y":50},{"x":3357,"y":61},{"x":3358.7,"y":48},{"x":3360.3,"y":24},{"x":3362,"y":-9},{"x":3363.6,"y":-43},{"x":3364.7,"y":-52},{"x":3366,"y":-40},{"x":3367.7,"y":-26},{"x":3369.5,"y":-22},{"x":3371,"y":-21},{"x":3374.2,"y":-13},{"x":3377.5,"y":-6},{"x":3380.7,"y":-1},{"x":3385.6,"y":2},{"x":3389,"y":-2},{"x":3392.2,"y":-6},{"x":3394.5,"y":-11},{"x":3397.1,"y":-14},{"x":3400.5,"y":-11},{"x":3403.6,"y":-6},{"x":3407,"y":-3},{"x":3410.2,"y":-2},{"x":3415,"y":-1},{"x":3420,"y":0},{"x":3450,"y":0}],
"p5c1":[{"x":3250,"y":0},{"x":3310,"y":0},{"x":3318.5,"y":-2},{"x":3323,"y":-5},{"x":3328.2,"y":-9},{"x":3331.5,"y":-13},{"x":3334.7,"y":-19},{"x":3337.5,"y":-25},{"x":3340,"y":-28},{"x":3342,"y":-14},{"x":3343.8,"y":1},{"x":3346,"y":22},{"x":3348.2,"y":31},{"x":3350.5,"y":15},{"x":3352.8,"y":-6},{"x":3354,"y":-22},{"x":3355.3,"y":-39},{"x":3356.8,"y":-55},{"x":3358.1,"y":-64},{"x":3359.3,"y":-40},{"x":3360.5,"y":-6},{"x":3361.8,"y":30},{"x":3363,"y":58},{"x":3364.3,"y":45},{"x":3366.8,"y":17},{"x":3368.5,"y":0},{"x":3370.4,"y":-7},{"x":3372,"y":-2},{"x":3374.2,"y":6},{"x":3377,"y":10},{"x":3379.2,"y":11},{"x":3383,"y":10},{"x":3387.3,"y":8},{"x":3392,"y":6},{"x":3397.1,"y":4},{"x":3402,"y":2},{"x":3406.9,"y":1},{"x":3412,"y":0},{"x":3450,"y":0}],
"p5c2":[{"x":3250,"y":0},{"x":3312,"y":0},{"x":3318.5,"y":3},{"x":3322,"y":7},{"x":3325,"y":16},{"x":3329,"y":28},{"x":3333.6,"y":38},{"x":3336,"y":33},{"x":3338.1,"y":26},{"x":3340.5,"y":22},{"x":3343,"y":19},{"x":3345,"y":10},{"x":3346.3,"y":1},{"x":3348,"y":-18},{"x":3349.6,"y":-36},{"x":3350.8,"y":-20},{"x":3352,"y":7},{"x":3353.3,"y":45},{"x":3354.5,"y":84},{"x":3356.3,"y":115},{"x":3358.1,"y":122},{"x":3359.6,"y":95},{"x":3361,"y":51},{"x":3362,"y":-16},{"x":3362.9,"y":-70},{"x":3363.8,"y":-105},{"x":3365,"y":-85},{"x":3366.8,"y":-43},{"x":3368,"y":-25},{"x":3369.3,"y":-16},{"x":3371,"y":-17},{"x":3373.5,"y":-23},{"x":3376,"y":-16},{"x":3380.7,"y":-9},{"x":3387.3,"y":-5},{"x":3391,"y":-9},{"x":3393.5,"y":-14},{"x":3396.3,"y":-23},{"x":3399,"y":-19},{"x":3401.6,"y":-13},{"x":3405,"y":-4},{"x":3410,"y":-1},{"x":3415,"y":0},{"x":3450,"y":0}],
"p6e":[{"x":3257,"y":4},{"x":3258,"y":-6},{"x":3259,"y":10},{"x":3260,"y":17},{"x":3261,"y":-8},{"x":3262,"y":-2},{"x":3263,"y":6},{"x":3264,"y":11},{"x":3265,"y":-10},{"x":3266,"y":-4},{"x":3267,"y":8},{"x":3268,"y":2},{"x":3269,"y":-3},{"x":3270,"y":-9},{"x":3271,"y":12},{"x":3272,"y":5},{"x":3273,"y":-7},{"x":3274,"y":0},{"x":3275,"y":5},{"x":3276,"y":-5},{"x":3277,"y":-12},{"x":3278,"y":3},{"x":3279,"y":9},{"x":3280,"y":1},{"x":3281,"y":22},{"x":3282,"y":-4},{"x":3283,"y":-9},{"x":3284,"y":10},{"x":3285,"y":4},{"x":3286,"y":-8},{"x":3287,"y":-1},{"x":3288,"y":5},{"x":3289,"y":8},{"x":3290,"y":-11},{"x":3291,"y":-3},{"x":3292,"y":7},{"x":3293,"y":1},{"x":3294,"y":-4},{"x":3295,"y":-8},{"x":3296,"y":11},{"x":3297,"y":3},{"x":3298,"y":-9},{"x":3299,"y":-2},{"x":3300,"y":3},{"x":3301,"y":9},{"x":3302,"y":-6},{"x":3303,"y":-1},{"x":3304,"y":8},{"x":3305,"y":2},{"x":3306,"y":-12},{"x":3307,"y":-4},{"x":3308,"y":14},{"x":3309,"y":6},{"x":3310,"y":-5},{"x":3311,"y":-1},{"x":3312,"y":9},{"x":3313,"y":3},{"x":3314,"y":-3},{"x":3315,"y":5},{"x":3316,"y":12},{"x":3317,"y":-2},{"x":3318,"y":-6},{"x":3319,"y":4},{"x":3320,"y":10},{"x":3321,"y":-3},{"x":3322,"y":2},{"x":3323,"y":7},{"x":3324,"y":-28},{"x":3325,"y":8},{"x":3326,"y":14},{"x":3327,"y":0},{"x":3328,"y":18},{"x":3329,"y":6},{"x":3330,"y":20},{"x":3331,"y":10},{"x":3332,"y":24},{"x":3333,"y":12},{"x":3334,"y":28},{"x":3335,"y":16},{"x":3336,"y":30},{"x":3337,"y":22},{"x":3338,"y":36},{"x":3339,"y":20},{"x":3340,"y":38},{"x":3341,"y":28},{"x":3342,"y":45},{"x":3343,"y":-4},{"x":3344,"y":40},{"x":3345,"y":48},{"x":3346,"y":55},{"x":3346.5,"y":46},{"x":3347.5,"y":30},{"x":3348.5,"y":5},{"x":3349.5,"y":-30},{"x":3350.5,"y":-55},{"x":3351.5,"y":-70},{"x":3352.5,"y":-48},{"x":3353.5,"y":-60},{"x":3354.5,"y":-30},{"x":3355.5,"y":-35},{"x":3356.5,"y":-10},{"x":3357.5,"y":0},{"x":3358.5,"y":20},{"x":3359.5,"y":35},{"x":3360.5,"y":50},{"x":3361.5,"y":62},{"x":3362.5,"y":80},{"x":3363.5,"y":100},{"x":3364,"y":112},{"x":3364.8,"y":85},{"x":3365.6,"y":45},{"x":3366.5,"y":-20},{"x":3367.3,"y":-60},{"x":3368,"y":-85},{"x":3368.9,"y":-104},{"x":3369.8,"y":-80},{"x":3370.8,"y":-55},{"x":3371.8,"y":-30},{"x":3372.8,"y":-12},{"x":3373.8,"y":2},{"x":3374.8,"y":-4},{"x":3375.8,"y":8},{"x":3376.8,"y":14},{"x":3377.8,"y":6},{"x":3378.8,"y":15},{"x":3379.8,"y":-5},{"x":3380.8,"y":4},{"x":3381.8,"y":-12},{"x":3382.8,"y":-6},{"x":3383.8,"y":-18},{"x":3384.8,"y":-10},{"x":3385.8,"y":-20},{"x":3386.8,"y":-8},{"x":3387.8,"y":-22},{"x":3388.8,"y":-12},{"x":3390,"y":-16},{"x":3391,"y":-4},{"x":3392,"y":-18},{"x":3393,"y":-6},{"x":3394,"y":-14},{"x":3395,"y":-2},{"x":3396,"y":2},{"x":3397,"y":-9},{"x":3398,"y":-16},{"x":3399,"y":-5},{"x":3400,"y":-4},{"x":3401,"y":3},{"x":3402,"y":-12},{"x":3403,"y":-6},{"x":3404,"y":6},{"x":3405,"y":-3},{"x":3406,"y":-14},{"x":3407,"y":-7},{"x":3408,"y":2},{"x":3409,"y":5},{"x":3410,"y":-8},{"x":3411,"y":-2},{"x":3412,"y":10},{"x":3413,"y":1},{"x":3414,"y":-6},{"x":3415,"y":-11},{"x":3416,"y":4},{"x":3417,"y":8},{"x":3418,"y":-10},{"x":3419,"y":-3},{"x":3420,"y":8},{"x":3421,"y":2},{"x":3422,"y":-4},{"x":3423,"y":-9},{"x":3424,"y":12},{"x":3425,"y":3},{"x":3426,"y":-7},{"x":3427,"y":1},{"x":3428,"y":5},{"x":3429,"y":-4},{"x":3430,"y":-12},{"x":3431,"y":0},{"x":3432,"y":9},{"x":3433,"y":4},{"x":3434,"y":-2},{"x":3435,"y":-8},{"x":3436,"y":11},{"x":3437,"y":2},{"x":3438,"y":-8},{"x":3439,"y":-3},{"x":3440,"y":6},{"x":3441,"y":10},{"x":3442,"y":-5},{"x":3443,"y":-1},{"x":3444,"y":14},{"x":3445,"y":4},{"x":3446,"y":-3},{"x":3447,"y":-9},{"x":3448,"y":8},{"x":3449,"y":1},{"x":3450,"y":-9},{"x":3451,"y":-2},{"x":3452,"y":12},{"x":3453,"y":5},{"x":3454,"y":-4},{"x":3455,"y":3},{"x":3456,"y":27},{"x":3457,"y":-2}],
"p6c":[{"x":3257,"y":0},{"x":3317,"y":0},{"x":3321,"y":1},{"x":3325.6,"y":3},{"x":3329,"y":7},{"x":3332.1,"y":13},{"x":3335.5,"y":18},{"x":3338.7,"y":23},{"x":3341.5,"y":30},{"x":3343.6,"y":37},{"x":3345.3,"y":42},{"x":3346.5,"y":45},{"x":3347.5,"y":30},{"x":3348.5,"y":13},{"x":3349.3,"y":-8},{"x":3350.2,"y":-30},{"x":3351.8,"y":-50},{"x":3353.3,"y":-45},{"x":3355,"y":-30},{"x":3356.6,"y":-8},{"x":3358.3,"y":13},{"x":3360,"y":38},{"x":3361.5,"y":63},{"x":3362.8,"y":88},{"x":3364,"y":101},{"x":3364.8,"y":80},{"x":3365.6,"y":47},{"x":3366.3,"y":15},{"x":3366.8,"y":-10},{"x":3367.8,"y":-60},{"x":3368.9,"y":-94},{"x":3370,"y":-75},{"x":3371,"y":-53},{"x":3372.2,"y":-30},{"x":3373.4,"y":-10},{"x":3375,"y":3},{"x":3376.5,"y":9},{"x":3377.5,"y":10},{"x":3379,"y":6},{"x":3380.5,"y":1},{"x":3381.6,"y":-3},{"x":3383.5,"y":-10},{"x":3386.2,"y":-16},{"x":3388.5,"y":-14},{"x":3391.4,"y":-10},{"x":3394,"y":-8},{"x":3396.3,"y":-7},{"x":3399,"y":-8},{"x":3402.9,"y":-7},{"x":3405,"y":-5},{"x":3407.8,"y":-4},{"x":3412,"y":-2},{"x":3416,"y":-1},{"x":3420,"y":0},{"x":3457,"y":0}]
},
"vconcat":[
 {"vconcat":[
  {"hconcat":[
   {"width":473,"height":364,
    "title":{"text":"290 K","offset":-31,"dx":30.5},
    "encoding":{
     "x":{"field":"x","type":"quantitative","scale":{"domain":[3250,3450],"range":[35,435],"nice":false,"zero":false},"axis":{"values":[3250,3300,3350,3400,3450],"offset":-183.3,"title":"[G]","titleX":435,"titleY":42,"labelFontSize":16.5,"titleFontSize":16,"labelPadding":16}},
     "y":{"field":"y","type":"quantitative","scale":{"domain":[-183.3,180.7],"nice":false,"zero":false},"axis":null}},
    "layer":[
     {"data":{"name":"p1e"},"mark":{"type":"line","strokeWidth":1.2},"encoding":{"color":{"datum":"Experimental","type":"nominal","scale":{"domain":["Experimental","Component 1, τc=0.422ns"],"range":["#000000","#1E73CD"]},"legend":{"legendX":37,"legendY":326,"symbolSize":841,"labelFontSize":17,"columnPadding":18}}}},
     {"data":{"name":"p1c"},"mark":{"type":"line","strokeWidth":2.2,"interpolate":"monotone"},"encoding":{"color":{"datum":"Component 1, τc=0.422ns","type":"nominal"}}}
    ]},
   {"width":464,"height":364,
    "title":{"text":"248 K","offset":-31,"dx":34},
    "encoding":{
     "x":{"field":"x","type":"quantitative","scale":{"domain":[3250,3450],"range":[36,436],"nice":false,"zero":false},"axis":{"values":[3250,3300,3350,3400,3450],"offset":-183,"title":"[G]","titleX":436,"titleY":44,"labelFontSize":16.5,"titleFontSize":16,"labelPadding":17}},
     "y":{"field":"y","type":"quantitative","scale":{"domain":[-183,181],"nice":false,"zero":false},"axis":null}},
    "layer":[
     {"data":{"name":"p2e"},"mark":{"type":"line","strokeWidth":2},"encoding":{"color":{"datum":"Experimental","type":"nominal","scale":{"domain":["Experimental","Component 1, τc=2.15ns"],"range":["#000000","#1E73CD"]},"legend":{"legendX":43,"legendY":326,"symbolSize":841,"labelFontSize":17,"columnPadding":20}}}},
     {"data":{"name":"p2c"},"mark":{"type":"line","strokeWidth":2,"interpolate":"monotone"},"encoding":{"color":{"datum":"Component 1, τc=2.15ns","type":"nominal"}}}
    ]}
  ],"spacing":59,
  "resolve":{"scale":{"color":"independent","x":"independent","y":"independent"},"legend":{"color":"independent"}}},
  {"hconcat":[
   {"width":474,"height":364,
    "title":{"text":"220 K","offset":-30,"dx":23},
    "encoding":{
     "x":{"field":"x","type":"quantitative","scale":{"domain":[3250,3450],"range":[26,447],"nice":false,"zero":false},"axis":{"values":[3250,3300,3350,3400,3450],"offset":-183,"title":"[G]","titleX":447,"titleY":44,"labelFontSize":15.5,"titleFontSize":15.5,"labelPadding":17}},
     "y":{"field":"y","type":"quantitative","scale":{"domain":[-183,181],"nice":false,"zero":false},"axis":null}},
    "layer":[
     {"data":{"name":"p3e"},"mark":{"type":"line","strokeWidth":1.5},"encoding":{"color":{"datum":"Experimental","type":"nominal","scale":{"domain":["Experimental","Sum","Component 1, τc=16.8ns","Component 2, τc=18.7ns"],"range":["#000000","#FF0000","#1E73CD","#37AA32"]},"legend":{"legendX":26,"legendY":306,"columns":2,"symbolSize":729,"labelFontSize":15.2,"columnPadding":11,"rowPadding":0}}}},
     {"data":{"name":"p3s"},"mark":{"type":"line","strokeWidth":2.2,"interpolate":"monotone"},"encoding":{"color":{"datum":"Sum","type":"nominal"}}},
     {"data":{"name":"p3c1"},"mark":{"type":"line","strokeWidth":2,"interpolate":"monotone"},"encoding":{"color":{"datum":"Component 1, τc=16.8ns","type":"nominal"}}},
     {"data":{"name":"p3c2"},"mark":{"type":"line","strokeWidth":2,"interpolate":"monotone"},"encoding":{"color":{"datum":"Component 2, τc=18.7ns","type":"nominal"}}}
    ]},
   {"width":464,"height":364,
    "title":{"text":"97 K","offset":-34,"dx":17},
    "encoding":{
     "x":{"field":"x","type":"quantitative","scale":{"domain":[3250,3450],"range":[26,445],"nice":false,"zero":false},"axis":{"values":[3250,3300,3350,3400,3450],"offset":-188.7,"title":"[G]","titleX":444,"titleY":44,"labelFontSize":15.5,"titleFontSize":15.5,"labelPadding":19}},
     "y":{"field":"y","type":"quantitative","scale":{"domain":[-188.7,175.3],"nice":false,"zero":false},"axis":null}},
    "layer":[
     {"data":{"name":"p4e"},"mark":{"type":"line","strokeWidth":2},"encoding":{"color":{"datum":"Experimental","type":"nominal","scale":{"domain":["Experimental","Sum","Component 1, τc=34.1 ns","Component 2, τc=27.3 ns"],"range":["#000000","#FF0000","#1E73CD","#37AA32"]},"legend":{"legendX":13,"legendY":301,"columns":2,"symbolSize":729,"labelFontSize":15.5,"columnPadding":10,"rowPadding":3}}}},
     {"data":{"name":"p4s"},"mark":{"type":"line","strokeWidth":2.2,"interpolate":"monotone"},"encoding":{"color":{"datum":"Sum","type":"nominal"}}},
     {"data":{"name":"p4c1"},"mark":{"type":"line","strokeWidth":2,"interpolate":"monotone"},"encoding":{"color":{"datum":"Component 1, τc=34.1 ns","type":"nominal"}}},
     {"data":{"name":"p4c2"},"mark":{"type":"line","strokeWidth":2,"interpolate":"monotone"},"encoding":{"color":{"datum":"Component 2, τc=27.3 ns","type":"nominal"}}}
    ]}
  ],"spacing":58,
  "resolve":{"scale":{"color":"independent","x":"independent","y":"independent"},"legend":{"color":"independent"}}}
 ],"spacing":26,
 "resolve":{"scale":{"color":"independent","x":"independent","y":"independent"},"legend":{"color":"independent"}},
 "title":{"text":"(a)","orient":"bottom","offset":40,"dx":-9,"fontSize":17,"font":"Liberation Serif","color":"#000","frame":"bounds"}},
 {"hconcat":[
   {"width":472,"height":363,
    "title":{"text":"222 K","offset":-29,"dx":24},
    "encoding":{
     "x":{"field":"x","type":"quantitative","scale":{"domain":[3250,3450],"range":[32,439],"nice":false,"zero":false},"axis":{"values":[3250,3300,3350,3400,3450],"offset":-196,"title":"[G]","titleX":442,"titleY":41,"labelFontSize":15.5,"titleFontSize":15.5,"labelPadding":17,"domainColor":"#BFBFBF","tickColor":"#BFBFBF"}},
     "y":{"field":"y","type":"quantitative","scale":{"domain":[-196,167],"nice":false,"zero":false},"axis":null}},
    "layer":[
     {"data":{"name":"p5e"},"mark":{"type":"line","strokeWidth":2},"encoding":{"color":{"datum":"Experimental","type":"nominal","scale":{"domain":["Experimental","Sum","Component 1, τc=17.2ns","Component 2, τc=17.4ns"],"range":["#000000","#FF0000","#1E73CD","#37AA32"]},"legend":{"legendX":26,"legendY":299,"columns":2,"symbolSize":729,"labelFontSize":15.3,"columnPadding":4,"rowPadding":3}}}},
     {"data":{"name":"p5s"},"mark":{"type":"line","strokeWidth":2.2,"interpolate":"monotone"},"encoding":{"color":{"datum":"Sum","type":"nominal"}}},
     {"data":{"name":"p5c1"},"mark":{"type":"line","strokeWidth":2,"interpolate":"monotone"},"encoding":{"color":{"datum":"Component 1, τc=17.2ns","type":"nominal"}}},
     {"data":{"name":"p5c2"},"mark":{"type":"line","strokeWidth":2,"interpolate":"monotone"},"encoding":{"color":{"datum":"Component 2, τc=17.4ns","type":"nominal"}}}
    ]},
   {"width":464,"height":363,
    "title":{"text":"248 K","offset":-26,"dx":18},
    "encoding":{
     "x":{"field":"x","type":"quantitative","scale":{"domain":[3257,3457],"range":[32,440],"nice":false,"zero":false},"axis":{"values":[3257,3307,3357,3407,3457],"offset":-190,"title":"[G]","titleX":440,"titleY":41,"labelFontSize":15,"titleFontSize":15.5,"labelPadding":17,"domainColor":"#404040","tickColor":"#404040"}},
     "y":{"field":"y","type":"quantitative","scale":{"domain":[-190,173],"nice":false,"zero":false},"axis":null}},
    "layer":[
     {"data":{"name":"p6e"},"mark":{"type":"line","strokeWidth":1.2},"encoding":{"color":{"datum":"Experimental","type":"nominal","scale":{"domain":["Experimental","Component 1, τc=4.35ns"],"range":["#000000","#1E73CD"]},"legend":{"legendX":59,"legendY":327,"symbolSize":729,"labelFontSize":15,"columnPadding":30}}}},
     {"data":{"name":"p6c"},"mark":{"type":"line","strokeWidth":2,"interpolate":"monotone"},"encoding":{"color":{"datum":"Component 1, τc=4.35ns","type":"nominal"}}}
    ]}
  ],"spacing":60,
  "resolve":{"scale":{"color":"independent","x":"independent","y":"independent"},"legend":{"color":"independent"}},
  "title":{"text":"(b)","orient":"bottom","offset":36,"dx":-9,"fontSize":17,"font":"Liberation Serif","color":"#000","frame":"bounds"}}
],
"spacing":32,
"resolve":{"scale":{"color":"independent","x":"independent","y":"independent"},"legend":{"color":"independent"}}
}
